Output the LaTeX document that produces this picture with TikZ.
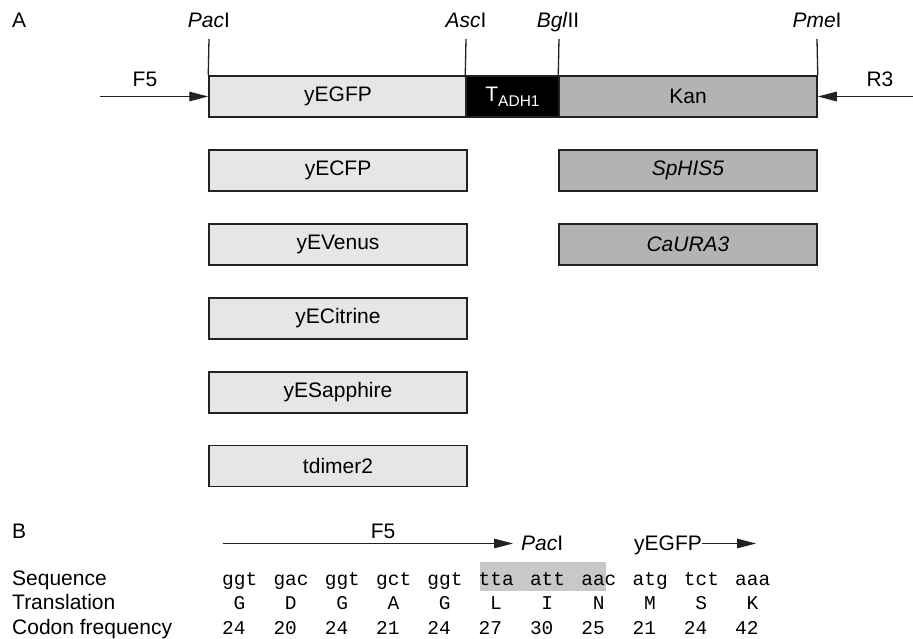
\documentclass[tikz,border=0pt]{standalone}
\usepackage{fontspec}
\setmainfont{Liberation Sans}
\setmonofont{Liberation Mono}
\usetikzlibrary{arrows.meta}
\definecolor{lightfill}{HTML}{E6E6E6}
\definecolor{darkfill}{HTML}{B3B3B3}
\definecolor{hlfill}{HTML}{C8C8C8}
\definecolor{edge}{HTML}{222222}
\tikzset{
  sans/.style={font=\fontsize{21}{25}\selectfont, inner sep=0pt},
  mono/.style={font=\ttfamily\fontsize{19.5}{22}\selectfont, inner sep=0pt},
  genebox/.style={draw=edge, line width=1.5pt, rectangle, inner sep=0pt,
     minimum height=41pt, font=\fontsize{21}{25}\selectfont},
  gfpbox/.style={genebox, fill=lightfill, minimum width=258pt},
  markbox/.style={genebox, fill=darkfill, minimum width=258pt},
  site/.style={line width=1.3pt, draw=edge},
  arr/.style={line width=1.3pt, draw=edge, -{Triangle[length=19pt,width=9.5pt]}},
}
\begin{document}
\begin{tikzpicture}[x=1pt,y=-1pt]
\useasboundingbox (0,0) rectangle (913,639);
% ---- Panel A ----
\node[sans, anchor=base west] (labA) at (12,28) {A};
% main bar
\node[gfpbox] (egfp) at (338,96.5) {yEGFP};
\node[genebox, fill=black, minimum width=93pt, text=white] (tadh) at (512.5,96.5)
  {T\raisebox{-0.45ex}{\fontsize{15.5}{15.5}\selectfont ADH1}};
\node[markbox] (kan) at (688,96.5) {Kan};
% restriction sites
\coordinate (pacT) at (209,39);
\coordinate (ascT) at (466,39);
\coordinate (bglT) at (559,39);
\coordinate (pmeT) at (817,39);
\draw[site] (pacT) -- (egfp.north west);
\draw[site] (ascT) -- (tadh.north west);
\draw[site] (bglT) -- (kan.north west);
\draw[site] (pmeT) -- (kan.north east);
\node[sans, anchor=base] (pac) at (209,28) {\textit{Pac}I};
\node[sans, anchor=base] (asc) at (466,28) {\textit{Asc}I};
\node[sans, anchor=base] (bgl) at (558,28) {\textit{Bgl}II};
\node[sans, anchor=base] (pme) at (817,28) {\textit{Pme}I};
% primers
\coordinate (f5s) at (100,96.5);
\coordinate (r3s) at (913,96.5);
\draw[arr] (f5s) -- (egfp.west);
\draw[arr] (r3s) -- (kan.east);
\node[sans, anchor=base] (f5A) at (145,87) {F5};
\node[sans, anchor=base] (r3A) at (880,87) {R3};
% alternatives
\node[gfpbox] (ecfp) at (338,170.5) {yECFP};
\node[gfpbox] (venus) at (338,244.5) {yEVenus};
\node[gfpbox] (citrine) at (338,318.5) {yECitrine};
\node[gfpbox] (sapphire) at (338,392.5) {yESapphire};
\node[gfpbox] (tdimer) at (338,466) {tdimer2};
\node[markbox] (his) at (688,170.5) {\textit{SpHIS5}};
\node[markbox] (ura) at (688,244.5) {\textit{CaURA3}};
% ---- Panel B ----
\node[sans, anchor=base west] (labB) at (12,538) {B};
\node[draw=none, fill=hlfill, minimum width=126pt, minimum height=29pt, inner sep=0pt] (hl) at (543,576.5) {};
\coordinate (f5bs) at (223,543.5);
\coordinate (f5be) at (513,543.5);
\draw[arr] (f5bs) -- (f5be);
\node[sans, anchor=base] (f5B) at (383,538) {F5};
\node[sans, anchor=base west] (pacB) at (521,550) {\textit{Pac}I};
\node[sans, anchor=base west] (gfpB) at (634,550) {yEGFP};
\coordinate (gfpe) at (756,543.5);
\draw[arr] (gfpB.east |- gfpe) -- (gfpe);
\node[sans, anchor=base west] (seqL) at (12,585) {Sequence};
\node[sans, anchor=base west] (trL) at (12,609) {Translation};
\node[sans, anchor=base west] (cfL) at (12,634) {Codon frequency};
\foreach \c/\a/\f [count=\i from 0] in {ggt/G/24, gac/D/20, ggt/G/24, gct/A/21, ggt/G/24, tta/L/27, att/I/30, aac/N/25, atg/M/21, tct/S/24, aaa/K/42}{
  \node[mono, anchor=base west] (cod\i) at ({222+51.3*\i},585) {\c};
  \node[mono, anchor=base] (aa\i) at ({239.5+51.3*\i},609) {\a};
  \node[mono, anchor=base west] (fr\i) at ({222+51.3*\i},634) {\f};
}
\end{tikzpicture}
\end{document}
